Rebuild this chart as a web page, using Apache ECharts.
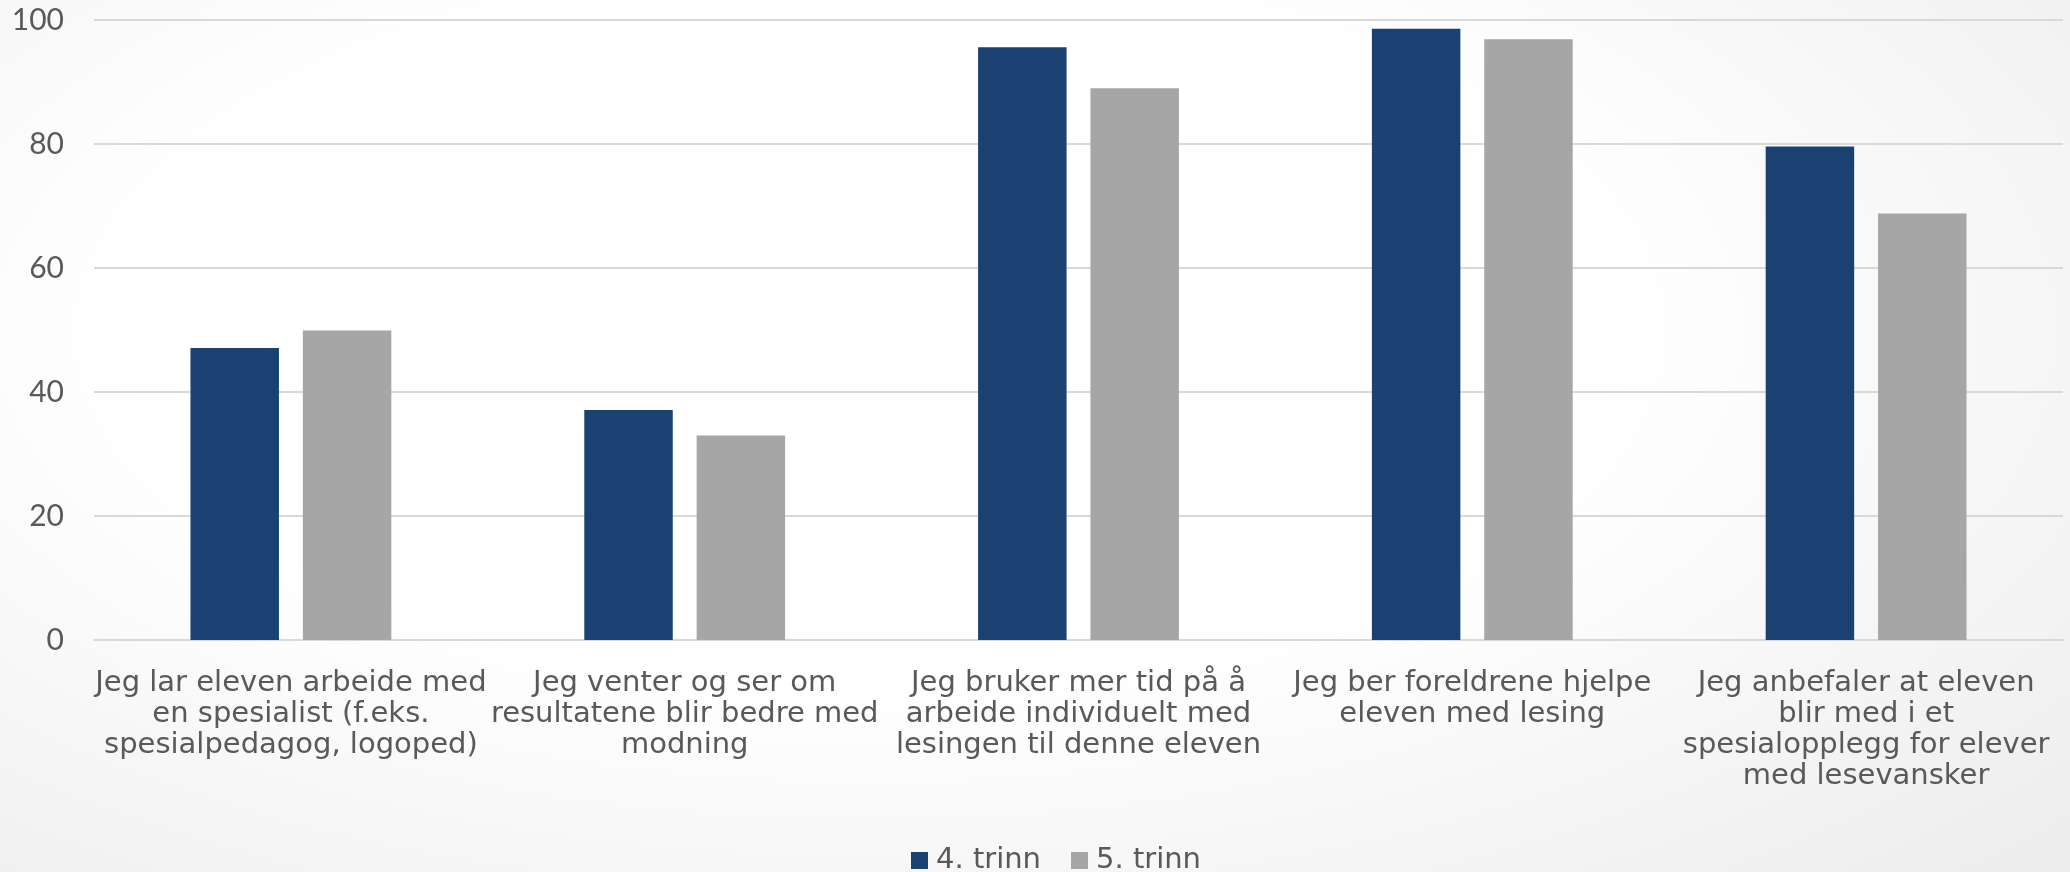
<!DOCTYPE html>
<html>
<head>
<meta charset="utf-8">
<style>
  html, body { margin: 0; padding: 0; }
  body {
    width: 2070px; height: 872px;
    background: radial-gradient(ellipse 80% 90% at 42% 38%, #ffffff 45%, #ececec 100%);
  }
  #chart { width: 2070px; height: 872px; }
</style>
<script src="https://cdn.jsdelivr.net/npm/echarts@6/dist/echarts.min.js"></script>
</head>
<body>
<div id="chart"></div>
<script>
// kategorier (tiltak)
var categories = [
  "Jeg lar eleven arbeide med\nen spesialist (f.eks.\nspesialpedagog, logoped)",
  "Jeg venter og ser om\nresultatene blir bedre med\nmodning",
  "Jeg bruker mer tid på å\narbeide individuelt med\nlesingen til denne eleven",
  "Jeg ber foreldrene hjelpe\neleven med lesing",
  "Jeg anbefaler at eleven\nblir med i et\nspesialopplegg for elever\nmed lesevansker"
];
var seriesNames = ["4. trinn", "5. trinn"];
var trinn4 = [47.1, 37.1, 95.6, 98.6, 79.6];
var trinn5 = [49.9, 33.0, 89.0, 96.9, 68.8];

var textColor = "#595959";
var labelFont = "'DejaVu Sans', 'Open Sans', sans-serif";
var numberFont = "Lato, 'Open Sans', sans-serif";

var myChart = echarts.init(document.getElementById("chart"));
var option = {
  backgroundColor: "transparent",
  textStyle: { fontFamily: labelFont },
  legend: {
    data: seriesNames,
    top: 841,
    left: 906,
    icon: "rect",
    itemWidth: 17,
    itemHeight: 17,
    itemGap: 30,
    textStyle: { color: textColor, fontSize: 29, fontFamily: labelFont, padding: [0, 0, 0, 3] }
  },
  grid: {
    left: 94,
    right: 7,
    top: 20,
    bottom: 232
  },
  xAxis: {
    type: "category",
    data: categories,
    axisLine: { show: true, lineStyle: { color: "#d9d9d9", width: 2 } },
    axisTick: { show: false },
    axisLabel: {
      interval: 0,
      color: textColor,
      fontSize: 29,
      fontFamily: labelFont,
      lineHeight: 31,
      margin: 28,
      align: "center"
    }
  },
  yAxis: {
    type: "value",
    min: 0,
    max: 100,
    interval: 20,
    axisLine: { show: false },
    axisTick: { show: false },
    axisLabel: { color: textColor, fontSize: 30, fontFamily: numberFont, margin: 30 },
    splitLine: { lineStyle: { color: "#d9d9d9", width: 2 } }
  },
  series: [
    {
      name: seriesNames[0],
      type: "bar",
      data: trinn4,
      barGap: "27%",
      barCategoryGap: "49%",
      itemStyle: { color: "#1b4173" }
    },
    {
      name: seriesNames[1],
      type: "bar",
      data: trinn5,
      itemStyle: { color: "#a6a6a6" }
    }
  ]
};
window.onresize = myChart.resize;
myChart.setOption(option);
</script>
</body>
</html>
